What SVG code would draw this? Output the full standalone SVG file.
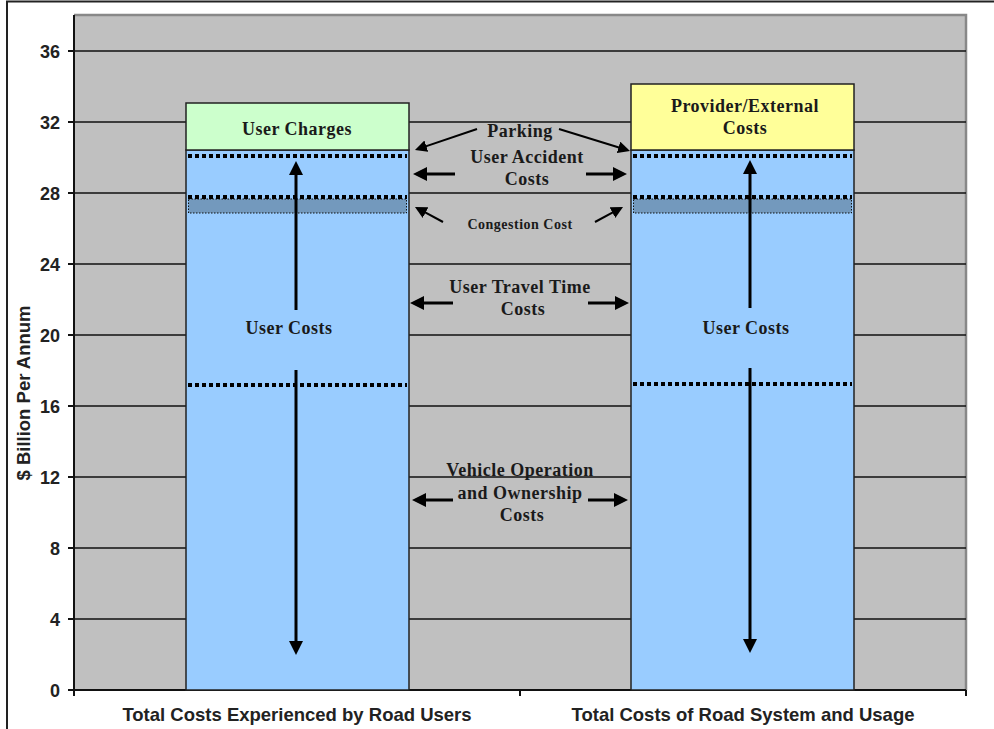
<svg xmlns="http://www.w3.org/2000/svg" width="994" height="729" viewBox="0 0 994 729">
  <style>
    .grid { stroke: #111; stroke-width: 1.5; }
    .axis { stroke: #111; stroke-width: 2; fill: none; }
    .frame { stroke: #888; stroke-width: 2.5; fill: none; }
    .tick { font-family: "Liberation Sans", Arial, sans-serif; font-weight: bold; font-size: 18px; fill: #222; text-anchor: end; }
    .cat { font-family: "Liberation Sans", Arial, sans-serif; font-weight: bold; font-size: 18.5px; fill: #222; text-anchor: middle; }
    .lbl { font-family: "Liberation Serif", "Times New Roman", serif; font-weight: bold; font-size: 18px; letter-spacing: 0.5px; fill: #1a1a1a; text-anchor: middle; }
    .small { font-size: 14px; }
    .bar { stroke: #222; stroke-width: 1.5; }
    .blue { fill: #99CCFF; }
    .green { fill: #CCFFCC; }
    .yellow { fill: #FFFF99; }
    .band { fill: #7399BD; stroke: #111; stroke-width: 1; stroke-dasharray: 1.5 1.5; }
    .dots { stroke: #000; stroke-width: 4; stroke-dasharray: 4 3; }
    .arr { stroke: #000; stroke-width: 3; fill: none; marker-end: url(#head); }
    .arr-s { stroke: #000; stroke-width: 2; fill: none; marker-end: url(#head-s); }
  </style>
  <defs>
    <marker id="head" viewBox="0 0 14 14" markerWidth="14" markerHeight="14" markerUnits="userSpaceOnUse" refX="4" refY="7" orient="auto">
      <path d="M0,0 L14,7 L0,14 z" fill="#000"/>
    </marker>
    <marker id="head-s" viewBox="0 0 12 12" markerWidth="12" markerHeight="12" markerUnits="userSpaceOnUse" refX="3" refY="6" orient="auto">
      <path d="M0,0 L12,6 L0,12 z" fill="#000"/>
    </marker>
  </defs>

  <!-- page -->
  <rect x="0" y="0" width="994" height="729" fill="#fff"/>
  <path d="M7,729 V1.5 H994" stroke="#222" stroke-width="2" fill="none"/>

  <!-- plot area -->
  <g id="plot-area">
    <rect x="74" y="15" width="892" height="675" fill="#C0C0C0"/>
    <path class="frame" d="M74,15 H966 V690"/>
    <g id="gridlines">
      <line class="grid" x1="74" y1="51" x2="966" y2="51"/>
      <line class="grid" x1="74" y1="122" x2="966" y2="122"/>
      <line class="grid" x1="74" y1="193" x2="966" y2="193"/>
      <line class="grid" x1="74" y1="264" x2="966" y2="264"/>
      <line class="grid" x1="74" y1="335" x2="966" y2="335"/>
      <line class="grid" x1="74" y1="406" x2="966" y2="406"/>
      <line class="grid" x1="74" y1="477" x2="966" y2="477"/>
      <line class="grid" x1="74" y1="548" x2="966" y2="548"/>
      <line class="grid" x1="74" y1="619" x2="966" y2="619"/>
    </g>
  </g>

  <!-- axes -->
  <g id="y-axis">
    <path class="axis" d="M74,15 V690"/>
    <path class="axis" d="M68,51 H74 M68,122 H74 M68,193 H74 M68,264 H74 M68,335 H74 M68,406 H74 M68,477 H74 M68,548 H74 M68,619 H74 M68,690 H74"/>
    <text class="tick" x="60" y="58">36</text>
    <text class="tick" x="60" y="129">32</text>
    <text class="tick" x="60" y="200">28</text>
    <text class="tick" x="60" y="271">24</text>
    <text class="tick" x="60" y="342">20</text>
    <text class="tick" x="60" y="413">16</text>
    <text class="tick" x="60" y="484">12</text>
    <text class="tick" x="60" y="555">8</text>
    <text class="tick" x="60" y="626">4</text>
    <text class="tick" x="60" y="697">0</text>
    <text class="cat" transform="translate(30,393) rotate(-90)" font-size="17.5">$ Billion Per Annum</text>
  </g>
  <g id="x-axis">
    <path class="axis" d="M74,690 H966 M74,690 V696 M520,690 V696 M966,690 V696"/>
    <text class="cat" x="297" y="721">Total Costs Experienced by Road Users</text>
    <text class="cat" x="743" y="721">Total Costs of Road System and Usage</text>
  </g>

  <!-- left bar: costs experienced by road users -->
  <g id="bar-users">
    <rect class="bar blue" x="186" y="150" width="223" height="540"/>
    <rect class="bar green" x="186" y="103" width="223" height="47"/>
    <rect class="band" x="188.5" y="199" width="218" height="14"/>
    <line class="dots" x1="188" y1="156" x2="407" y2="156"/>
    <line class="dots" x1="188" y1="197" x2="407" y2="197"/>
    <line class="dots" x1="188" y1="385" x2="407" y2="385"/>
    <text class="lbl" x="297" y="135">User Charges</text>
    <text class="lbl" x="289" y="334">User Costs</text>
  </g>

  <!-- right bar: costs of road system and usage -->
  <g id="bar-system">
    <rect class="bar blue" x="631" y="150" width="223" height="540"/>
    <rect class="bar yellow" x="631" y="84" width="223" height="66"/>
    <rect class="band" x="633.5" y="199" width="218" height="14"/>
    <line class="dots" x1="633" y1="156" x2="852" y2="156"/>
    <line class="dots" x1="633" y1="197" x2="852" y2="197"/>
    <line class="dots" x1="633" y1="384" x2="852" y2="384"/>
    <text class="lbl" x="745" y="112">Provider/External</text>
    <text class="lbl" x="745" y="134">Costs</text>
    <text class="lbl" x="746" y="334">User Costs</text>
  </g>

  <!-- cost component labels between the bars -->
  <g id="component-labels">
    <text class="lbl" x="520" y="137">Parking</text>
    <text class="lbl" x="527" y="163">User Accident</text>
    <text class="lbl" x="527" y="185">Costs</text>
    <text class="lbl small" x="520" y="229">Congestion Cost</text>
    <text class="lbl" x="520" y="293">User Travel Time</text>
    <text class="lbl" x="523" y="315">Costs</text>
    <text class="lbl" x="520" y="476">Vehicle Operation</text>
    <text class="lbl" x="520" y="499">and Ownership</text>
    <text class="lbl" x="522" y="521">Costs</text>
  </g>

  <!-- arrows -->
  <g id="connectors">
    <line class="arr" x1="296" y1="310" x2="296" y2="171"/>
    <line class="arr" x1="296" y1="370" x2="296" y2="645"/>
    <line class="arr" x1="750" y1="308" x2="750" y2="170"/>
    <line class="arr" x1="750" y1="368" x2="750" y2="643"/>

    <line class="arr-s" x1="477" y1="129" x2="423.5" y2="147.1"/>
    <line class="arr-s" x1="559" y1="129" x2="621.4" y2="148.3"/>

    <line class="arr" x1="455" y1="174" x2="423" y2="174"/>
    <line class="arr" x1="586" y1="174" x2="617" y2="174"/>

    <line class="arr-s" x1="443" y1="222" x2="422.9" y2="211.2"/>
    <line class="arr-s" x1="595" y1="222" x2="615.1" y2="211.2"/>

    <line class="arr" x1="453" y1="303" x2="420" y2="303"/>
    <line class="arr" x1="588" y1="303" x2="619" y2="303"/>

    <line class="arr" x1="453" y1="500" x2="422" y2="500"/>
    <line class="arr" x1="588" y1="500" x2="618" y2="500"/>
  </g>
</svg>
